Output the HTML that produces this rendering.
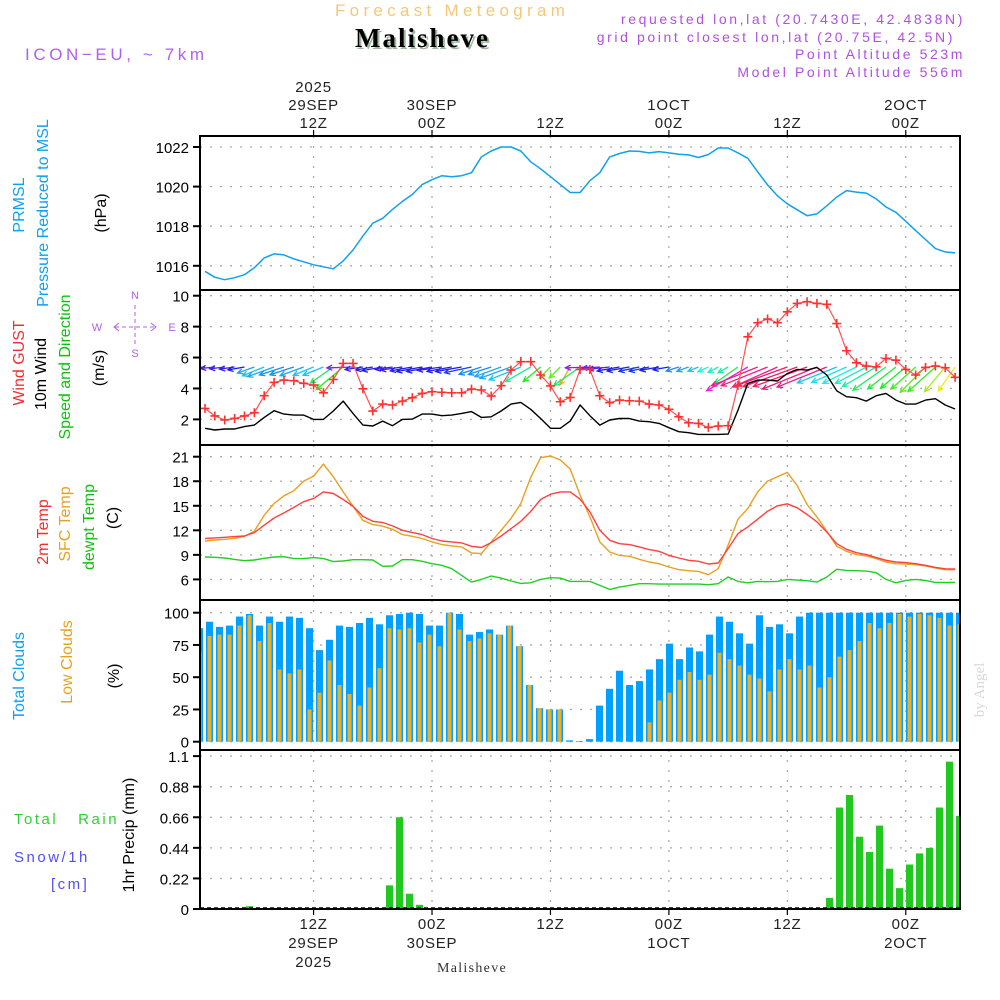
<!DOCTYPE html>
<html><head><meta charset="utf-8"><title>Meteogram Malisheve</title>
<style>
html,body{margin:0;padding:0;background:#fff;}
svg{display:block;font-family:"Liberation Sans",sans-serif;}
.tk{font-size:15px;fill:#000;text-anchor:end;}
.tl{font-size:15px;fill:#222;text-anchor:middle;letter-spacing:0.8px;}
.lab{font-size:15px;text-anchor:middle;}
</style></head>
<body>
<svg id="chart" width="1000" height="1000" viewBox="0 0 1000 1000" xmlns="http://www.w3.org/2000/svg">
<!-- header -->
<text x="335" y="16" font-size="17" fill="#f5c878" letter-spacing="4.3">Forecast Meteogram</text>
<text x="357" y="49" font-family="Liberation Serif,serif" font-weight="bold" font-size="27" fill="#a0b8a0" letter-spacing="2">Malisheve</text>
<text x="355" y="47" font-family="Liberation Serif,serif" font-weight="bold" font-size="27" fill="#000" letter-spacing="2">Malisheve</text>
<text x="25" y="60" font-size="17" fill="#b060f0" letter-spacing="3.6">ICON−EU, ~ 7km</text>
<g font-size="14" fill="#b050e0" text-anchor="end" letter-spacing="2.6">
<text x="965" y="24">requested lon,lat (20.7430E, 42.4838N)</text>
<text x="955" y="42">grid point closest lon,lat (20.75E, 42.5N)</text>
<text x="965" y="59">Point Altitude 523m</text>
<text x="965" y="77">Model Point Altitude 556m</text>
</g>
<text transform="translate(984,690) rotate(-90)" font-family="Liberation Serif,serif" font-size="15" fill="#d8d8d8" text-anchor="middle">by Angel</text>

<!-- left labels -->
<g class="lab">
<text transform="translate(24,205) rotate(-90)" fill="#10a0f0" style="font-size:16px">PRMSL</text>
<text transform="translate(48,213) rotate(-90)" fill="#10a0f0" style="font-size:16px">Pressure Reduced to MSL</text>
<text transform="translate(106,213) rotate(-90)" fill="#000" style="font-size:16px">(hPa)</text>
</g>
<g class="lab">
<text transform="translate(24,363) rotate(-90)" fill="#f03030" style="font-size:16px">Wind GUST</text>
<text transform="translate(46,374) rotate(-90)" fill="#000" style="font-size:16px">10m Wind</text>
<text transform="translate(70,367) rotate(-90)" fill="#10c010" style="font-size:16px">Speed and Direction</text>
<text transform="translate(104,368) rotate(-90)" fill="#000" style="font-size:16px">(m/s)</text>
</g>
<g fill="#b060f0" stroke="#b060f0" font-size="11">
<text x="135" y="299" text-anchor="middle" stroke="none">N</text>
<text x="97" y="331" text-anchor="middle" stroke="none">W</text>
<text x="172" y="331" text-anchor="middle" stroke="none">E</text>
<text x="135" y="357" text-anchor="middle" stroke="none">S</text>
<line x1="135" y1="305" x2="135" y2="345" stroke-dasharray="4,3"/>
<line x1="115" y1="327" x2="155" y2="327" stroke-dasharray="4,3"/>
<polyline points="119,323 114,327 119,331" fill="none"/>
<polyline points="151,323 156,327 151,331" fill="none"/>
</g>
<g class="lab">
<text transform="translate(48,532) rotate(-90)" fill="#f03030" style="font-size:16px">2m Temp</text>
<text transform="translate(70,524) rotate(-90)" fill="#e8a020" style="font-size:16px">SFC Temp</text>
<text transform="translate(94,527) rotate(-90)" fill="#10c010" style="font-size:16px">dewpt Temp</text>
<text transform="translate(118,518) rotate(-90)" fill="#000" style="font-size:16px">(C)</text>
</g>
<g class="lab">
<text transform="translate(24,676) rotate(-90)" fill="#10a0f0" style="font-size:16px">Total Clouds</text>
<text transform="translate(72,662) rotate(-90)" fill="#e8a020" style="font-size:16px">Low Clouds</text>
<text transform="translate(119,676) rotate(-90)" fill="#000" style="font-size:16px">(%)</text>
</g>
<g>
<text transform="translate(134,835) rotate(-90)" fill="#000" text-anchor="middle" font-size="16">1hr Precip (mm)</text>
<text x="14" y="824" fill="#30d030" font-size="15" letter-spacing="2.5" xml:space="preserve">Total   Rain</text>
<text x="14" y="862" fill="#5050f0" font-size="15" letter-spacing="2.5">Snow/1h</text>
<text x="51" y="889" fill="#5050f0" font-size="15" letter-spacing="2.5">[cm]</text>
</g>
<text x="472" y="972" font-family="Liberation Serif,serif" font-size="14" fill="#333" text-anchor="middle" letter-spacing="1.3">Malisheve</text>

<g id="plot"></g>
</svg>
<script>
// ---------- data ----------
const pressure = [1015.72,1015.42,1015.3,1015.4,1015.55,1015.9,1016.4,1016.6,1016.55,1016.35,1016.2,1016.05,1015.95,1015.85,1016.25,1016.8,1017.5,1018.15,1018.4,1018.85,1019.25,1019.6,1020.1,1020.35,1020.55,1020.5,1020.55,1020.7,1021.5,1021.8,1022.0,1022.0,1021.8,1021.25,1020.9,1020.5,1020.1,1019.7,1019.7,1020.3,1020.7,1021.5,1021.67,1021.8,1021.78,1021.7,1021.77,1021.7,1021.63,1021.6,1021.47,1021.62,1021.95,1021.95,1021.7,1021.43,1020.75,1020.08,1019.53,1019.13,1018.83,1018.53,1018.62,1019.03,1019.47,1019.8,1019.72,1019.67,1019.38,1018.97,1018.7,1018.25,1017.78,1017.33,1016.87,1016.7,1016.65];
const wind10 = [1.42,1.31,1.38,1.38,1.53,1.63,2.13,2.56,2.34,2.28,2.28,2.0,2.0,2.54,3.18,2.39,1.63,1.57,1.89,1.59,2.0,2.02,2.34,2.34,2.24,2.28,2.39,2.5,2.13,2.17,2.54,2.99,3.1,2.65,2.06,1.42,1.42,1.89,2.93,2.24,1.63,1.96,2.06,2.06,1.89,1.85,1.74,1.46,1.2,1.14,1.03,1.03,1.03,1.05,2.6,4.33,4.54,4.54,4.48,4.97,5.23,5.19,5.36,4.87,3.85,3.47,3.4,3.18,3.53,3.68,3.25,2.99,2.99,3.25,3.34,2.93,2.67];
const gust = [2.71,2.22,1.96,2.06,2.22,2.43,3.53,4.39,4.54,4.5,4.33,4.22,3.72,4.58,5.62,5.62,3.98,2.54,2.99,2.93,3.18,3.4,3.68,3.79,3.75,3.72,3.72,3.96,3.9,3.51,4.18,5.19,5.73,5.73,4.87,4.16,3.14,3.42,5.23,5.23,3.53,3.08,3.25,3.2,3.18,2.99,2.93,2.65,2.17,1.78,1.74,1.48,1.57,1.59,4.2,7.34,8.25,8.49,8.25,8.96,9.5,9.61,9.5,9.44,8.2,6.44,5.66,5.45,5.4,5.94,5.83,5.23,4.87,5.36,5.45,5.34,4.72];
const windDir = [85,84,83,82,80,70,68,70,72,72,70,68,68,55,50,88,82,80,80,82,82,80,80,80,82,80,80,78,72,72,70,70,68,60,50,45,45,30,55,88,86,84,80,80,78,78,80,80,72,70,68,65,62,60,55,60,68,68,66,70,70,70,68,68,68,66,64,62,60,55,52,50,48,45,48,40,35];
const temp2m = [11.0,11.07,11.15,11.23,11.3,11.72,12.62,13.5,14.13,14.8,15.5,15.9,16.7,16.5,15.77,14.95,13.7,13.1,12.95,12.54,12.0,11.72,11.48,11.0,10.7,10.58,10.46,10.05,9.9,10.5,11.31,12.2,13.1,14.3,15.77,16.42,16.7,16.7,15.8,14.26,12.0,10.78,10.37,10.25,9.97,9.64,9.43,8.94,8.62,8.33,8.21,7.88,8.0,9.76,11.6,12.42,13.36,14.34,15.0,15.24,14.75,13.93,13.03,11.8,10.37,9.68,9.27,9.03,8.66,8.33,8.13,8.05,7.92,7.72,7.47,7.3,7.27];
const tempSfc = [10.7,10.82,10.9,11.03,11.27,11.89,13.85,15.28,16.22,16.83,18.02,18.63,20.1,18.55,16.7,14.95,13.23,12.7,12.5,12.13,11.48,11.27,11.0,10.58,10.25,10.09,9.97,9.23,9.15,10.58,12.0,13.44,15.28,18.47,20.88,21.08,20.6,19.5,16.3,13.64,10.58,9.35,8.94,8.82,8.46,8.13,7.92,7.51,7.19,7.06,6.98,6.57,7.31,10.17,13.36,14.67,16.7,18.02,18.55,19.08,17.45,15.16,13.64,11.89,10.05,9.43,9.03,8.86,8.53,8.13,7.92,7.88,7.8,7.64,7.39,7.19,7.19];
const dewpt = [8.74,8.7,8.62,8.45,8.29,8.37,8.58,8.74,8.78,8.54,8.54,8.66,8.54,8.17,8.25,8.41,8.41,8.37,7.6,7.64,8.41,8.41,8.21,7.92,7.72,7.31,6.49,5.67,6.0,6.41,6.16,5.8,5.51,5.59,6.0,6.21,6.16,5.76,5.76,5.76,5.27,4.78,5.06,5.27,5.47,5.47,5.43,5.43,5.43,5.43,5.43,5.35,5.47,6.29,5.76,5.59,5.76,5.72,5.76,6.0,5.92,5.84,5.67,6.29,7.23,7.1,7.06,7.02,6.82,6.0,5.59,5.88,6.0,5.88,5.63,5.63,5.63];
const cloudTotal = [88,93,89,90,97,99,90,97,93,97,96,88,71,79,90,89,92,96,91,98,99,100,99,90,90,100,99,83,85,87,83,90,74,44,26,25,25,1,0.5,2,28,41,55,44,47,56,64,76,64,73,70,83,97,93,84,76,98,89,91,84,97,100,100,100,100,100,100,100,100,100,100,100,100,100,100,100,100];
const cloudLow = [70,82,83,83,90,98,78,92,56,53,56,25,38,63,44,37,28,42,57,88,87,88,77,83,74,100,87,78,80,84,83,90,74,44,26,25,25,0,0,0,0,0,0,0,0,15,32,38,48,54,48,52,69,64,59,52,49,39,56,64,56,59,42,50,66,71,78,92,88,92,99,97,99,98,96,90,91];
const precip = [0,0,0,0,0,0.02,0,0,0,0,0,0,0,0,0,0,0,0,0,0.17,0.66,0.11,0.03,0,0,0,0,0,0,0,0,0,0,0,0,0,0,0,0,0,0,0,0,0,0,0,0,0,0,0,0,0,0,0,0,0,0,0,0,0,0,0,0,0.08,0.73,0.82,0.52,0.41,0.60,0.29,0.15,0.32,0.40,0.44,0.73,1.06,0.67];
const pTicks = [1016,1018,1020,1022];
const wTicks = [2,4,6,8,10];
const tTicks = [6,9,12,15,18,21];
const cTicks = [0,25,50,75,100];
const rTicks = [0,0.22,0.44,0.66,0.88,1.1];
const rTickLabels = ["0","0.22","0.44","0.66","0.88","1.1"];
const timeHours = [12,24,36,48,60,72];
const topLabels = [["2025","29SEP","12Z"],["","30SEP","00Z"],["","","12Z"],["","1OCT","00Z"],["","","12Z"],["","2OCT","00Z"]];
const botLabels = [["12Z","29SEP","2025"],["00Z","30SEP",""],["12Z","",""],["00Z","1OCT",""],["12Z","",""],["00Z","2OCT",""]];

// ---------- scales ----------
const NS="http://www.w3.org/2000/svg";
const X0=200, X1=960;
const xOf = h => 205 + (h-1)*9.87;
const barX = i => 196 + i*10;
const P = {p:[136,290], w:[290,445], t:[445,600], c:[600,750], r:[750,909]};
const yP = v => 147 + (1022-v)*19.8;
const yW = v => 450.3 - v*15.46;
const yT = v => 456.7 + (21-v)*8.18;
const yC = v => 741.7 - v*1.29;
const yR = v => 909 - v*139;
const plot=document.getElementById('plot');
function el(tag,attrs,parent){const e=document.createElementNS(NS,tag);for(const k in attrs)e.setAttribute(k,attrs[k]);(parent||plot).appendChild(e);return e;}

const defs=el('defs',{});
const cp=el('clipPath',{id:'clip'},defs);
el('rect',{x:X0,y:136,width:X1-X0,height:774},cp);

function panelGrid(name,range,ticks,yf,labels){
  const g=el('g',{});
  
  
  ticks.forEach((t,i)=>{
    const y=yf(t);
    el('line',{x1:X0,x2:X1,y1:y,y2:y,stroke:'#aaa','stroke-width':1.3,'stroke-dasharray':'2,8'},g);
    el('line',{x1:X0-7,x2:X0,y1:y,y2:y,stroke:'#000','stroke-width':2},g);
    const tx=el('text',{x:X0-11,y:y+6,class:'tk'},g);
    tx.textContent = labels? labels[i] : String(t);
  });
  timeHours.forEach(h=>{
    const x=xOf(h);
    el('line',{x1:x,x2:x,y1:range[0],y2:range[1],stroke:'#aaa','stroke-width':1.3,'stroke-dasharray':'2,8'},g);
  });
}
panelGrid('pressure',P.p,pTicks,yP);
panelGrid('wind',P.w,wTicks,yW);
panelGrid('temperature',P.t,tTicks,yT);
panelGrid('cloud',P.c,cTicks,yC);
panelGrid('precip',P.r,rTicks,yR,rTickLabels);

const gb=el('g',{'clip-path':'url(#clip)'});


cloudTotal.forEach((v,i)=>{
  const b=el('rect',{x:barX(i),y:yC(v),width:7,height:yC(0)-yC(v),fill:'#00a0ff'},gb);
  
  
});
cloudLow.forEach((v,i)=>{
  if(v<=0) return;
  const b=el('rect',{x:barX(i)+1.5,y:yC(v),width:4,height:yC(0)-yC(v),fill:'#e8b030'},gb);
  
  
});
const gr=el('g',{'clip-path':'url(#clip)'});


precip.forEach((v,i)=>{
  if(v<=0) return;
  const b=el('rect',{x:barX(i),y:yR(v),width:7,height:yR(0)-yR(v),fill:'#20c820'},gr);
  
  
});
el('line',{x1:X0,x2:X1,y1:908,y2:908,stroke:'#000','stroke-width':1.5,'stroke-dasharray':'4,3'});

function line(arr,yf,color,name,w){
  const p=el('polyline',{points:arr.map((v,i)=>xOf(i+1).toFixed(1)+','+yf(v).toFixed(1)).join(' '),fill:'none',stroke:color,'stroke-width':w||1.4,'stroke-linejoin':'round'});
  
  
  return p;
}
line(pressure,yP,'#10a0f0','pressure-line',1.5);

const ga=el('g',{'clip-path':'url(#clip)'});


windDir.forEach((d,i)=>{
  const L=wind10[i]*11, r=d*Math.PI/180;
  const x0=xOf(i+1), y0=367;
  const dx=-Math.sin(r)*L, dy=Math.cos(r)*L;
  const x1=x0+dx, y1=y0+dy;
  let hue=Math.max(20,Math.min(280,120+(d-50)*4));
  if(wind10[i]>4) hue=(hue+140)%360;
  const col='hsl('+hue+',85%,52%)';
  const a=Math.atan2(dy,dx);
  const hx1=x1-6*Math.cos(a-0.45), hy1=y1-6*Math.sin(a-0.45);
  const hx2=x1-6*Math.cos(a+0.45), hy2=y1-6*Math.sin(a+0.45);
  const p=el('path',{d:`M${x0},${y0}L${x1},${y1}M${hx1},${hy1}L${x1},${y1}L${hx2},${hy2}`,stroke:col,'stroke-width':1.3,fill:'none'},ga);
  
  
});
line(wind10,yW,'#000','wind-speed-line',1.4);
line(gust,yW,'#ff5050','wind-gust-line',1.2);
const gm=el('g',{});


gust.forEach((v,i)=>{
  const x=xOf(i+1), y=yW(v);
  const m=el('path',{d:`M${x-4.5},${y}H${x+4.5}M${x},${y-4.5}V${y+4.5}`,stroke:'#ff3030','stroke-width':1.6},gm);
  
  
});

line(dewpt,yT,'#20d020','dewpoint-line',1.4);
line(tempSfc,yT,'#e8a020','sfc-temp-line',1.4);
line(temp2m,yT,'#ff4040','temp-2m-line',1.4);

[P.p,P.w,P.t,P.c,P.r].forEach((r,i)=>{
  const f=el('rect',{x:X0,y:r[0],width:X1-X0,height:r[1]-r[0],fill:'none',stroke:'#000','stroke-width':2});
  
  
});

const gt=el('g',{});


timeHours.forEach((h,k)=>{
  const x=xOf(h);
  el('line',{x1:x,x2:x,y1:130,y2:136,stroke:'#000','stroke-width':1.2},gt);
  el('line',{x1:x,x2:x,y1:909,y2:915,stroke:'#000','stroke-width':1.2},gt);
  topLabels[k].forEach((s,j)=>{ if(!s) return; const t=el('text',{x:x,y:92+j*18,class:'tl'},gt); t.textContent=s; });
  botLabels[k].forEach((s,j)=>{ if(!s) return; const t=el('text',{x:x,y:929+j*19,class:'tl'},gt); t.textContent=s; });
});
</script>
</body></html>
